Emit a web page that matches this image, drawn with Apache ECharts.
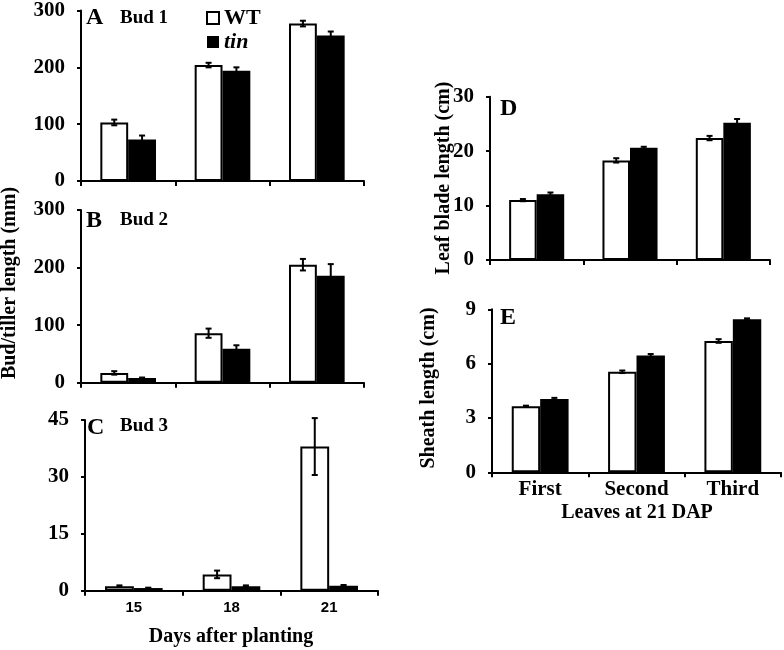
<!DOCTYPE html>
<html>
<head>
<meta charset="utf-8">
<script src="https://cdn.jsdelivr.net/npm/echarts@6/dist/echarts.min.js"></script>
<style>html,body{margin:0;padding:0;background:#fff}#c{width:784px;height:650px}</style>
</head>
<body>
<div id="c"></div>
<script>
// ---- data ----
const days = ['15', '18', '21'];
const leaves = ['First', 'Second', 'Third'];

const budA_WT = [103, 204, 277];
const budA_WT_err = [5, 4, 5];
const budA_tin = [73, 194, 256];
const budA_tin_err = [7, 6, 7];

const budB_WT = [17, 86, 205];
const budB_WT_err = [3, 8, 10];
const budB_tin = [8, 59, 186];
const budB_tin_err = [1, 6, 20];

const budC_WT = [1.2, 4.3, 38];
const budC_WT_err = [0.2, 1.0, 7.5];
const budC_tin = [0.7, 1.2, 1.3];
const budC_tin_err = [0.1, 0.2, 0.2];

const bladeD_WT = [11.0, 18.3, 22.4];
const bladeD_WT_err = [0.2, 0.4, 0.4];
const bladeD_tin = [12.1, 20.6, 25.2];
const bladeD_tin_err = [0.3, 0.2, 0.7];

const sheathE_WT = [3.65, 5.55, 7.25];
const sheathE_WT_err = [0.03, 0.07, 0.1];
const sheathE_tin = [4.05, 6.45, 8.45];
const sheathE_tin_err = [0.06, 0.08, 0.05];

const yTicksAB = [0, 100, 200, 300];
const yTicksC = [0, 15, 30, 45];
const yTicksD = [0, 10, 20, 30];
const yTicksE = [0, 3, 6, 9];

// ---- layout / style ----
const GAP = 0.41;
const SERIF = '"Liberation Serif", "Times New Roman", serif';
const SANS = '"Liberation Sans", Arial, sans-serif';

const grids = [
  {left: 81, top: 10, width: 283, height: 171},
  {left: 81, top: 210, width: 283, height: 172.7},
  {left: 85, top: 420, width: 293, height: 170.7},
  {left: 490, top: 96.7, width: 280, height: 163.3},
  {left: 492, top: 309.3, width: 289, height: 163}
];

const panels = [
  {cats: days, wt: budA_WT, wtE: budA_WT_err, tin: budA_tin, tinE: budA_tin_err, ticks: yTicksAB, showX: false, sans: true},
  {cats: days, wt: budB_WT, wtE: budB_WT_err, tin: budB_tin, tinE: budB_tin_err, ticks: yTicksAB, showX: false, sans: true},
  {cats: days, wt: budC_WT, wtE: budC_WT_err, tin: budC_tin, tinE: budC_tin_err, ticks: yTicksC, showX: true, sans: true},
  {cats: leaves, wt: bladeD_WT, wtE: bladeD_WT_err, tin: bladeD_tin, tinE: bladeD_tin_err, ticks: yTicksD, showX: false, sans: false},
  {cats: leaves, wt: sheathE_WT, wtE: sheathE_WT_err, tin: sheathE_tin, tinE: sheathE_tin_err, ticks: yTicksE, showX: true, sans: false}
];

const axisLine = {show: true, lineStyle: {color: '#000', width: 2}};
const xAxes = [], yAxes = [], series = [];

function errRender(params, api) {
  const ci = api.value(0), v = api.value(1), e = api.value(2), s = api.value(3);
  const band = api.size([1, 0])[0];
  const bw = band * (1 - GAP) / 2;
  const c = api.coord([ci, v]);
  const x = c[0] + (s === 0 ? -bw / 2 : bw / 2);
  const hi = api.coord([ci, v + e])[1];
  const lo = api.coord([ci, v - e])[1];
  const cap = 3;
  const st = {stroke: '#000', lineWidth: 2};
  return {type: 'group', children: [
    {type: 'line', shape: {x1: x, y1: hi, x2: x, y2: lo}, style: st},
    {type: 'line', shape: {x1: x - cap, y1: hi, x2: x + cap, y2: hi}, style: st},
    {type: 'line', shape: {x1: x - cap, y1: lo, x2: x + cap, y2: lo}, style: st}
  ]};
}

panels.forEach((p, i) => {
  xAxes.push({
    type: 'category', gridIndex: i, data: p.cats,
    axisLine: axisLine,
    axisTick: {show: true, length: 5, inside: false, lineStyle: {color: '#000', width: 2}},
    axisLabel: {show: p.showX, color: '#000', margin: p.sans ? 10 : 7,
      fontFamily: p.sans ? SANS : SERIF, fontWeight: 'bold', fontSize: p.sans ? 15 : 21},
    splitLine: {show: false}
  });
  const t = p.ticks;
  yAxes.push({
    type: 'value', gridIndex: i, min: t[0], max: t[t.length - 1], interval: t[1] - t[0],
    axisLine: axisLine,
    axisTick: {show: true, length: 4, lineStyle: {color: '#000', width: 2}},
    axisLabel: {color: '#000', margin: 16, fontFamily: SERIF, fontWeight: 'bold', fontSize: 21},
    splitLine: {show: false}
  });
  series.push({
    name: 'WT', type: 'bar', xAxisIndex: i, yAxisIndex: i, data: p.wt,
    barGap: '0%', barCategoryGap: (GAP * 100) + '%',
    itemStyle: {color: '#fff', borderColor: '#000', borderWidth: 2},
    emphasis: {disabled: true}, animation: false
  });
  series.push({
    name: 'tin', type: 'bar', xAxisIndex: i, yAxisIndex: i, data: p.tin,
    barGap: '0%', barCategoryGap: (GAP * 100) + '%',
    itemStyle: {color: '#000', borderColor: '#000', borderWidth: 2},
    emphasis: {disabled: true}, animation: false
  });
  const ed = [];
  p.wt.forEach((v, k) => ed.push([k, v, p.wtE[k], 0]));
  p.tin.forEach((v, k) => ed.push([k, v, p.tinE[k], 1]));
  series.push({
    type: 'custom', xAxisIndex: i, yAxisIndex: i, data: ed, clip: false, z: 10,
    encode: {x: 0, y: 1}, renderItem: errRender, animation: false, silent: true
  });
});

function txt(x, y, text, size, opts) {
  return Object.assign({
    type: 'text', x: x, y: y, silent: true,
    style: Object.assign({text: text, fill: '#000', fontFamily: SERIF, fontWeight: 'bold', fontSize: size,
      textAlign: 'left', textVerticalAlign: 'middle'}, (opts && opts.style) || {})
  }, (opts && opts.el) || {});
}
function vtxt(x, y, text, size) {
  return {type: 'text', x: x, y: y, rotation: Math.PI / 2, silent: true,
    style: {text: text, fill: '#000', fontFamily: SERIF, fontWeight: 'bold', fontSize: size,
      textAlign: 'center', textVerticalAlign: 'middle'}};
}

const graphics = [
  txt(86, 18, 'A', 24), txt(120, 18, 'Bud 1', 19),
  txt(86, 221, 'B', 24), txt(120, 220, 'Bud 2', 19),
  txt(87, 428, 'C', 24), txt(120, 426, 'Bud 3', 19),
  txt(500, 109, 'D', 24),
  txt(500, 318, 'E', 24),
  vtxt(10, 283, 'Bud/tiller length (mm)', 20),
  vtxt(444, 178, 'Leaf blade length (cm)', 20),
  vtxt(429, 388, 'Sheath length (cm)', 20),
  txt(231, 637, 'Days after planting', 20, {style: {textAlign: 'center'}}),
  txt(637, 513, 'Leaves at 21 DAP', 20, {style: {textAlign: 'center'}})
];

const chart = echarts.init(document.getElementById('c'), null, {renderer: 'canvas'});
chart.setOption({
  backgroundColor: '#fff',
  animation: false,
  grid: grids.map(g => Object.assign({containLabel: false}, g)),
  xAxis: xAxes,
  yAxis: yAxes,
  series: series,
  legend: {
    orient: 'vertical', left: 201, top: 2, itemWidth: 12, itemHeight: 12, itemGap: 2,
    selectedMode: false,
    data: [
      {name: 'WT', icon: 'rect', itemStyle: {color: '#fff', borderColor: '#000', borderWidth: 2}},
      {name: 'tin', icon: 'rect', itemStyle: {color: '#000', borderColor: '#000', borderWidth: 0}}
    ],
    formatter: n => n === 'tin' ? '{i|tin}' : n,
    textStyle: {color: '#000', fontFamily: SERIF, fontWeight: 'bold', fontSize: 22, lineHeight: 22,
      rich: {i: {fontStyle: 'italic', fontFamily: SERIF, fontWeight: 'bold', fontSize: 22, color: '#000'}}}
  },
  graphic: graphics
});
</script>
</body>
</html>
